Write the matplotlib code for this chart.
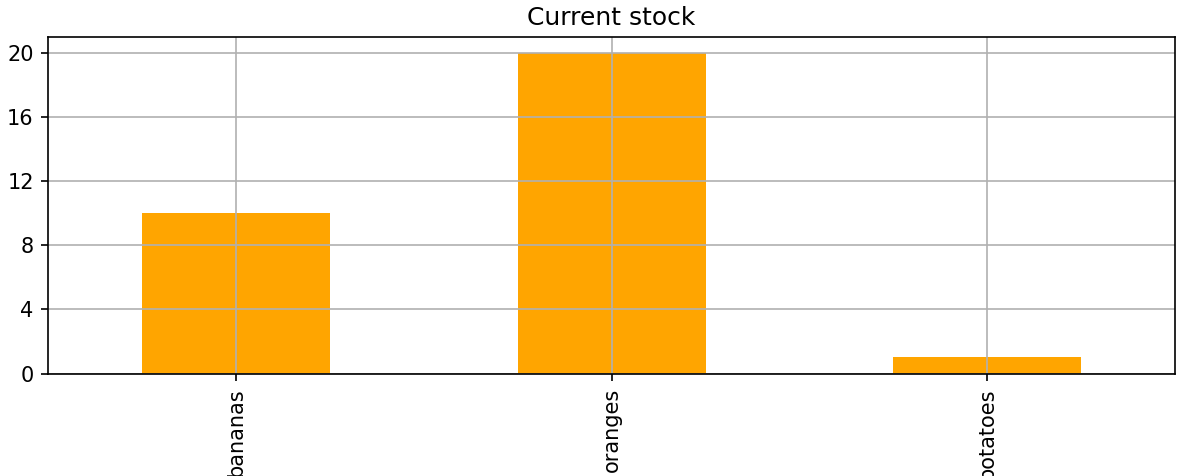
from matplotlib import pyplot as plt
import pandas as pd

items = ['bananas', 'oranges', 'potatoes']
stock = [10, 20, 1]

df = pd.DataFrame({'stock': stock}, index=items)

fig = plt.figure(figsize=(1178 / 150, 476 / 150), dpi=150)
ax = fig.add_axes([48.3 / 1178, 1 - 373.5 / 476, (1175 - 48.3) / 1178, (373.5 - 37.3) / 476])
df['stock'].plot(kind='bar', ax=ax, color='orange', grid=True)
ax.set_title('Current stock')
ax.set_yticks([0, 4, 8, 12, 16, 20])
ax.set_ylim(0, 21)
fig.savefig('out.png', dpi=150)
